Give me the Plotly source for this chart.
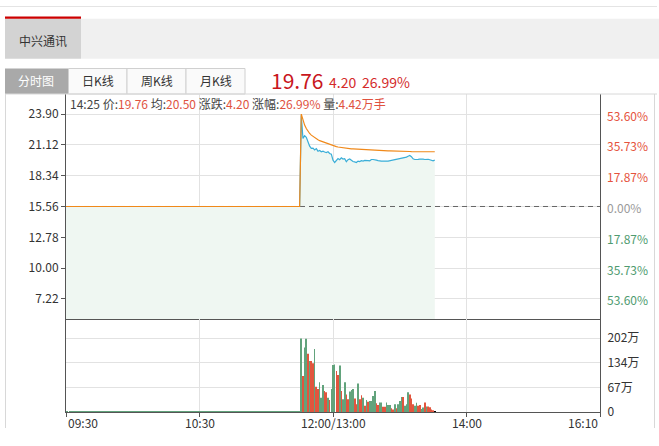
import plotly.graph_objects as go

# 分时数据: 横轴用分钟序号 (0..320), 前半段停牌价格不变
pre_close = 15.56
flat_slots = 141
time_labels = ["09:30", "10:30", "12:00/13:00", "14:00", "16:10"]
time_ticks = [0, 80, 160, 240, 320]

price_ticks = [23.90, 21.12, 18.34, 15.56, 12.78, 10.00, 7.22]
pct_labels = ["53.60%", "35.73%", "17.87%", "0.00%", "17.87%", "35.73%", "53.60%"]
pct_colors = ["#e5533d", "#e5533d", "#e5533d", "#9a9a9a", "#4f9b70", "#4f9b70", "#4f9b70"]
vol_ticks = [0, 67, 134, 202]
vol_labels = ["0", "67万", "134万", "202万"]

price_after = [
    23.80, 21.70, 21.94, 21.80, 21.40, 21.00, 20.80, 20.82, 20.66, 20.78,
    20.55, 20.62, 20.50, 20.55, 20.48, 20.43, 20.50, 20.34, 20.28, 19.74,
    19.53, 19.74, 19.89, 19.78, 19.95, 19.84, 19.88, 19.60, 19.78, 19.85,
    19.72, 19.62, 19.58, 19.53, 19.66, 19.62, 19.70, 19.66, 19.72, 19.68,
    19.70, 19.68, 19.80, 19.80, 19.80, 19.74, 19.70, 19.65, 19.66, 19.65,
    19.68, 19.66, 19.65, 19.68, 19.70, 19.74, 19.76, 19.80, 19.84, 19.86,
    19.88, 19.92, 19.96, 20.02, 20.10, 20.16, 20.05, 19.86, 19.80, 19.78,
    19.82, 19.84, 19.86, 19.84, 19.80, 19.84, 19.82, 19.78, 19.72, 19.68,
    19.76,
]
avg_after = [
    23.90, 23.30, 22.90, 22.60, 22.35, 22.15, 22.00, 21.88, 21.76, 21.66,
    21.58, 21.50, 21.44, 21.38, 21.33, 21.28, 21.24, 21.20, 21.14, 21.05,
    21.00, 20.96, 20.93, 20.90, 20.88, 20.86, 20.83, 20.80, 20.79, 20.78,
    20.76, 20.75, 20.74, 20.73, 20.72, 20.71, 20.70, 20.69, 20.68, 20.68,
    20.67, 20.66, 20.65, 20.62, 20.60, 20.60, 20.60, 20.59, 20.59, 20.59,
    20.59, 20.58, 20.58, 20.58, 20.58, 20.57, 20.57, 20.56, 20.55, 20.53,
    20.52, 20.52, 20.52, 20.52, 20.52, 20.52, 20.51, 20.51, 20.51, 20.51,
    20.51, 20.51, 20.51, 20.50, 20.50, 20.50, 20.50, 20.50, 20.50, 20.50,
    20.50,
]
# 成交量 (万)
vol_flat = 2
vol_after = [
    201, 98, 176, 200, 159, 139, 139, 133, 172, 69,
    63, 81, 39, 74, 57, 54, 39, 33, 63, 128,
    130, 112, 101, 127, 57, 35, 81, 48, 35, 56,
    60, 63, 37, 21, 78, 35, 46, 39, 17, 33,
    28, 30, 30, 44, 57, 24, 19, 26, 26, 14,
    14, 26, 19, 19, 10, 7, 21, 10, 21, 30,
    41, 41, 17, 21, 54, 48, 37, 21, 17, 25,
    17, 19, 8, 12, 26, 15, 15, 13, 7, 5,
    3,
]
vol_dir = "grggrgrrgrrgggrrgrgggrrgrggrrgggrrgrrgrgrggggrrggrrgggrrgrgggrgggrrrggrrggrgrrrr"

price = [pre_close] * flat_slots + price_after
avg = [pre_close] * flat_slots + avg_after
vols = [vol_flat] * flat_slots + vol_after
colors = ["#62a37c"] * flat_slots + ["#62a37c" if c == "g" else "#e2553e" for c in vol_dir]
slots = list(range(len(price)))

FONT = "Noto Sans CJK SC, Noto Sans, sans-serif"
GRID = "#e2e2e2"
AXIS = "#555555"


def px(x):
    return (x - 66) / 534


def py(y):
    return (412 - y) / 318


fig = go.Figure()
fig.add_trace(go.Scatter(x=slots, y=price, mode="lines", line=dict(width=0),
                         fill="tozeroy", fillcolor="#eff7f2", hoverinfo="skip"))
fig.add_trace(go.Scatter(x=[0, 320], y=[pre_close, pre_close], mode="lines",
                         line=dict(color="#666666", width=1, dash="5px,4px"), hoverinfo="skip"))
fig.add_trace(go.Scatter(x=slots, y=price, mode="lines", line=dict(color="#3aaed8", width=1.2)))
fig.add_trace(go.Scatter(x=slots, y=avg, mode="lines", line=dict(color="#f0891a", width=1.2)))
fig.add_trace(go.Bar(x=slots, y=vols, marker=dict(color=colors, line=dict(width=0)),
                     xaxis="x2", yaxis="y2"))

shapes = []
def rect(x0, y0, x1, y1, fill, line=None):
    shapes.append(dict(type="rect", xref="paper", yref="paper", x0=px(x0), x1=px(x1),
                       y0=py(y0), y1=py(y1), fillcolor=fill,
                       line=dict(width=1 if line else 0, color=line or fill), layer="below"))

def hline(x0, x1, y, color):
    shapes.append(dict(type="line", xref="paper", yref="paper", x0=px(x0), x1=px(x1),
                       y0=py(y), y1=py(y), line=dict(color=color, width=1)))

def vline(x, y0, y1, color):
    shapes.append(dict(type="line", xref="paper", yref="paper", x0=px(x), x1=px(x),
                       y0=py(y0), y1=py(y1), line=dict(color=color, width=1)))

hline(0, 657, 6.5, "#e4e4e4")
rect(5, 18.7, 81, 58.7, "#d3d3d3")
rect(81, 18.7, 659, 58.7, "#f0f0f0")
rect(5, 16.5, 81, 18.7, "#cc0000")
rect(5, 68.5, 68.5, 94, "#a9a9a9")
rect(68.5, 68.5, 127, 94, "#fafafa", "#d0d0d0")
rect(127, 68.5, 186, 94, "#fafafa", "#d0d0d0")
rect(186, 68.5, 245, 94, "#fafafa", "#d0d0d0")
hline(5, 657, 94, "#d8d8d8")
vline(5.5, 94, 428, "#d8d8d8")
vline(654.5, 94, 428, "#d8d8d8")

ann = []
def text(x, y, s, size=12, color="#333333", anchor="center"):
    ann.append(dict(xref="paper", yref="paper", x=px(x), y=py(y), text=s, showarrow=False,
                    xanchor=anchor, yanchor="middle", font=dict(family=FONT, size=size, color=color)))

text(43, 40, "中兴通讯")
text(36, 81, "分时图", color="#ffffff")
text(97.7, 81, "日K线")
text(156.5, 81, "周K线")
text(215.5, 81, "月K线")
text(269, 80, "19.76", size=21, color="#c8161d", anchor="left")
text(327, 82, "4.20", size=14, color="#d42b2b", anchor="left")
text(360, 82, "26.99%", size=14, color="#d42b2b", anchor="left")

red = "#e0523f"
info = ("14:25 价:<span style='color:%s'>19.76</span> 均:<span style='color:%s'>20.50</span> "
        "涨跌:<span style='color:%s'>4.20</span> 涨幅:<span style='color:%s'>26.99%%</span> "
        "量:<span style='color:%s'>4.42万手</span>") % (red, red, red, red, red)
text(68, 103.5, info, color="#444444", anchor="left")

for v, lab, c in zip(price_ticks, pct_labels, pct_colors):
    ann.append(dict(xref="paper", yref="y", x=1, y=v, text=lab, showarrow=False,
                    xanchor="left", yanchor="middle", xshift=5, yshift=-1,
                    font=dict(family=FONT, size=12, color=c)))

anchors = ["left", "center", "center", "center", "right"]
for t, lab, a in zip(time_ticks, time_labels, anchors):
    ann.append(dict(xref="x2", yref="paper", x=t, y=py(422.5), text=lab, showarrow=False,
                    xanchor=a, yanchor="middle", font=dict(family=FONT, size=12, color="#333333")))

fig.update_layout(
    width=659, height=446,
    margin=dict(l=66, r=59, t=94, b=34),
    paper_bgcolor="white", plot_bgcolor="white",
    showlegend=False, bargap=0.6,
    font=dict(family=FONT, size=12, color="#333333"),
    shapes=shapes, annotations=ann,
    xaxis=dict(domain=[0, 1], anchor="y", range=[0, 320], tickvals=time_ticks,
               showticklabels=False, showgrid=True, gridcolor=GRID, zeroline=False,
               showline=True, linecolor=AXIS, ticks=""),
    xaxis2=dict(domain=[0, 1], anchor="y2", range=[0, 320], tickvals=time_ticks,
                showticklabels=False, showgrid=True, gridcolor=GRID, zeroline=False,
                showline=True, linecolor=AXIS, ticks="outside", ticklen=4, tickcolor=AXIS),
    yaxis=dict(domain=[0.2925, 1], range=[5.41, 25.71], tickvals=price_ticks,
               ticktext=["%.2f" % v for v in price_ticks], ticks="outside", ticklen=4,
               tickcolor=AXIS, showline=True, mirror=True, linecolor=AXIS,
               gridcolor=GRID, zeroline=False, tickfont=dict(size=12, color="#333333")),
    yaxis2=dict(domain=[0, 0.2925], range=[0, 254], side="right", tickvals=vol_ticks,
                ticktext=vol_labels, ticks="", showline=True, mirror=True, linecolor=AXIS,
                gridcolor=GRID, zeroline=False, ticklabelstandoff=4,
                tickfont=dict(size=12, color="#333333")),
)

# 去掉页面默认的 body 边距, 让图从左上角开始
fig.write_html("out.html", config={"displayModeBar": False},
               post_script="document.body.style.margin='0';document.body.style.padding='0';")
